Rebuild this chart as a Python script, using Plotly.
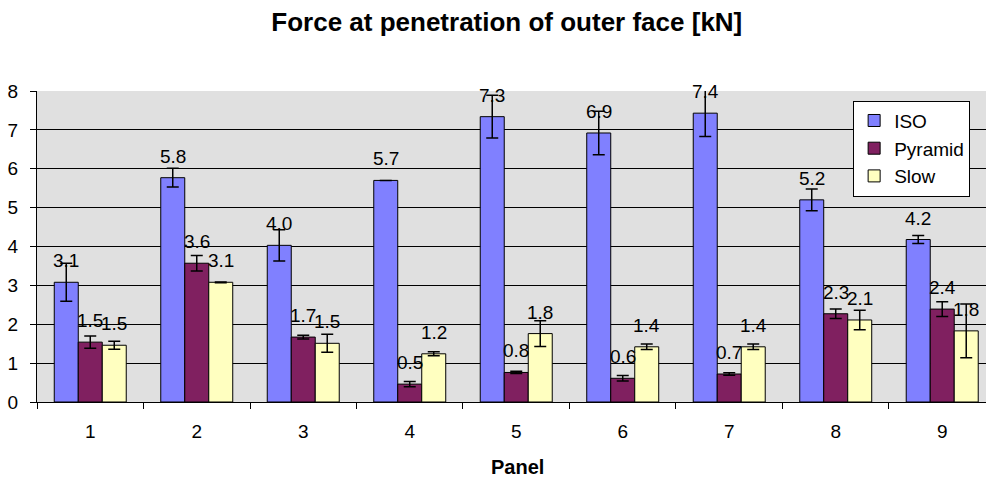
import plotly.graph_objects as go

panels = ["1", "2", "3", "4", "5", "6", "7", "8", "9"]
iso = [3.08, 5.77, 4.03, 5.70, 7.34, 6.92, 7.43, 5.20, 4.18]
iso_err = [0.49, 0.24, 0.40, 0.0, 0.55, 0.56, 0.60, 0.28, 0.10]
pyramid = [1.54, 3.57, 1.67, 0.46, 0.76, 0.61, 0.72, 2.27, 2.39]
pyramid_err = [0.16, 0.20, 0.05, 0.07, 0.03, 0.07, 0.03, 0.12, 0.19]
slow = [1.46, 3.08, 1.51, 1.24, 1.76, 1.42, 1.42, 2.11, 1.83]
slow_err = [0.10, 0.01, 0.23, 0.05, 0.33, 0.07, 0.07, 0.25, 0.69]

series = [
    ("ISO", iso, iso_err, "#8080FF"),
    ("Pyramid", pyramid, pyramid_err, "#802060"),
    ("Slow", slow, slow_err, "#FFFFC0"),
]

BARGAP = 0.324
FONT = "Liberation Sans, Arial, sans-serif"

fig = go.Figure()
annotations = []
bw = (1 - BARGAP) / len(series)
for k, (name, vals, errs, color) in enumerate(series):
    fig.add_trace(go.Bar(
        x=panels, y=vals, name=name, legendgroup=name,
        marker=dict(color=color, line=dict(color="black", width=1)),
        error_y=dict(type="data", array=errs, visible=True, color="black",
                     thickness=1.5, width=6),
    ))
    for i, v in enumerate(vals):
        annotations.append(dict(
            x=i + (k - 1) * bw, y=v, xref="x", yref="y",
            text=f"{v:.1f}", showarrow=False, yanchor="bottom", xanchor="center",
            yshift=9, font=dict(family=FONT, size=19, color="black"),
        ))

annotations.append(dict(
    x=0.5058, y=-0.209, xref="paper", yref="paper", text="<b>Panel</b>",
    showarrow=False, xanchor="center", yanchor="middle",
    font=dict(family=FONT, size=20, color="black"),
))

fig.update_layout(
    width=986, height=477,
    margin=dict(l=37, r=0, t=91, b=75),
    paper_bgcolor="white", plot_bgcolor="#E0E0E0",
    barmode="group", bargap=BARGAP, bargroupgap=0,
    font=dict(family=FONT, size=19, color="black"),
    title=dict(text="<b>Force at penetration of outer face [kN]</b>",
               x=0.514, xanchor="center", xref="container",
               y=1 - 22 / 477, yanchor="middle", yref="container",
               font=dict(family=FONT, size=26, color="black")),
    legend=dict(x=0.86, y=0.969, xanchor="left", yanchor="top",
                bgcolor="white", bordercolor="black", borderwidth=1,
                font=dict(family=FONT, size=19, color="black"),
                traceorder="normal"),
    xaxis=dict(type="category", range=[-0.5, 8.411], tickson="boundaries",
               ticks="outside", ticklen=6, tickcolor="black", showline=True,
               linecolor="black", linewidth=1, showgrid=False,
               ticklabelstandoff=12, tickfont=dict(size=19)),
    yaxis=dict(range=[0, 8], dtick=1, ticks="outside", ticklen=6,
               tickcolor="black", showline=True, linecolor="black", linewidth=1,
               showgrid=True, gridcolor="black", gridwidth=1, zeroline=False,
               ticklabelstandoff=8, tickfont=dict(size=19)),
    annotations=annotations,
    showlegend=True,
)

fig.write_html("out.html", config={"displayModeBar": False},
               post_script="document.body.style.margin='0';")
